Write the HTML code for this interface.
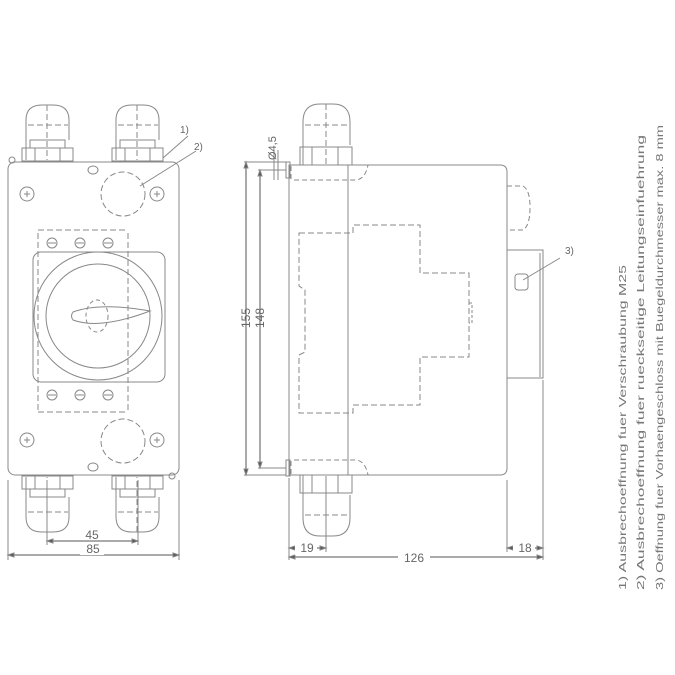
<!DOCTYPE html>
<html><head><style>html,body{margin:0;padding:0;background:#fff;}svg{display:block}</style></head>
<body>
<svg width="675" height="675" viewBox="0 0 675 675" xmlns="http://www.w3.org/2000/svg" font-family="Liberation Sans, sans-serif">
<rect x="0" y="0" width="675" height="675" fill="#fff"/>
<g fill="none" stroke="#888" stroke-width="1">
<!-- LEFT VIEW -->
<rect x="8" y="162" width="171" height="313" rx="7" fill="none"/>
<g id="gt">
<path d="M26 160 V120 Q26 105 42 105 H53 Q69 105 69 120 V140"/>
<line x1="28" y1="125" x2="68" y2="125" stroke-dasharray="6,3"/>
<line x1="47" y1="105" x2="47" y2="160" stroke-dasharray="6,3"/>
<rect x="30" y="140" width="35" height="8" fill="none"/>
<rect x="22" y="148" width="51" height="13" fill="none"/>
<line x1="35" y1="148" x2="35" y2="161"/><line x1="60" y1="148" x2="60" y2="161"/>
</g>
<use href="#gt" transform="translate(90,0)"/>
<use href="#gt" transform="translate(0,637) scale(1,-1)"/>
<use href="#gt" transform="translate(90,637) scale(1,-1)"/>
<circle cx="12" cy="160" r="3" fill="none"/><circle cx="172" cy="476" r="3" fill="none"/>
<ellipse cx="93" cy="170" rx="5" ry="4" fill="none"/><ellipse cx="93" cy="467" rx="5" ry="4" fill="none"/>
<g id="sc"><circle cx="27" cy="194" r="7" fill="none"/><path d="M24 194h6M27 191v6"/></g>
<use href="#sc" transform="translate(130,0)"/>
<use href="#sc" transform="translate(0,246)"/>
<use href="#sc" transform="translate(130,246)"/>
<circle cx="123" cy="194" r="22" stroke-dasharray="6,3" fill="none"/>
<circle cx="123" cy="441" r="22" stroke-dasharray="6,3" fill="none"/>
<path d="M38 233 V413 M128 233 V413 M38 230 H128 M38 412 H128" stroke-dasharray="6,3"/>
<g id="ts"><circle cx="52" cy="243" r="5" fill="none"/><path d="M48 243h8"/></g>
<use href="#ts" transform="translate(28,0)"/><use href="#ts" transform="translate(56,0)"/>
<use href="#ts" transform="translate(0,152)"/><use href="#ts" transform="translate(28,152)"/><use href="#ts" transform="translate(56,152)"/>
<rect x="33" y="252" width="132" height="130" rx="8" fill="none"/>
<circle cx="98" cy="316" r="64" fill="none"/>
<circle cx="98" cy="316" r="52" fill="none"/>
<path d="M73 312 Q100 302 150 311 Q100 330 73 320 Q70 316 73 312Z" fill="none"/>
<ellipse cx="97" cy="316" rx="11" ry="16" stroke-dasharray="4,3" fill="none"/>
<path d="M47 480V545 M138 480V545 M8 480V560 M179 480V560"/>
<path d="M47 541H138 M8 555H179" stroke="#555"/>
<path d="M47 541l6-2v4z M138 541l-6-2v4z M8 555l6-2v4z M179 555l-6-2v4z" fill="#555"/>
<path d="M163 158 L188 136 M140 186 L196 151"/>

<!-- SIDE VIEW -->
<path d="M289 165 H500 Q507 165 507 172 V468 Q507 475 500 475 H289 Z" fill="none"/>
<line x1="348" y1="165" x2="348" y2="475"/>
<rect x="286" y="162" width="4" height="16" fill="none"/><rect x="286" y="460" width="4" height="16" fill="none"/>
<path d="M291 166 V178 Q291 180 295 180 H355 Q365 180 368 165" stroke-dasharray="5,3"/>
<path d="M291 474 V462 Q291 460 295 460 H355 Q365 460 368 475" stroke-dasharray="5,3"/>
<g id="sg">
<path d="M303 165 V122 Q303 104 320 104 H333 Q350 104 350 122 V145"/>
<line x1="305" y1="125" x2="349" y2="125" stroke-dasharray="6,3"/>
<line x1="326" y1="104" x2="326" y2="165" stroke-dasharray="6,3"/>
<rect x="300" y="147" width="52" height="18" fill="none"/>
<line x1="312" y1="147" x2="312" y2="165"/><line x1="338" y1="147" x2="338" y2="165"/>
</g>
<use href="#sg" transform="translate(0,640) scale(1,-1)"/>
<path d="M299 233 H353 V225 H420 V273 H469 V357 H420 V405 H353 V413 H299 V355 L305 352 V290 L299 286 Z" stroke-dasharray="6,3"/>
<path d="M469 303 h3 v20 h-3" stroke-dasharray="3,2"/>
<path d="M507 186 H523 Q530 190 530 207 Q530 226 523 230 H507" stroke-dasharray="5,3"/>
<path d="M507 250 H543 V378 H507"/><line x1="540" y1="253" x2="540" y2="377"/>
<rect x="515" y="274" width="13" height="16" rx="3" fill="none"/>
<line x1="523" y1="280" x2="560" y2="258"/>
<path d="M244 162 H286 M244 475 H286 M258 170 H286 M258 468 H286"/>
<path d="M246 162V475 M260 170V468" stroke="#555"/>
<path d="M246 162l-2 6h4z M246 475l-2-6h4z M260 170l-2 6h4z M260 468l-2-6h4z" fill="#555"/>
<path d="M274 150 V180 M278 150 V180"/>
<path d="M289 478V560 M326 478V552 M507 480V552 M543 380V560"/>
<path d="M289 548H326 M507 548H543 M289 557H543" stroke="#555"/>
<path d="M289 548l6-2v4z M326 548l-6-2v4z M507 548l6-2v4z M543 548l-6-2v4z M289 557l6-2v4z M543 557l-6-2v4z" fill="#555"/>
</g>
<g fill="#666" font-size="12">
<text x="180" y="133" font-size="10">1)</text>
<text x="194" y="150" font-size="10">2)</text>
<text x="565" y="254" font-size="10">3)</text>
<text x="92" y="539" text-anchor="middle">45</text>
<rect x="80" y="545" width="24" height="10" fill="#fff"/>
<text x="93" y="553" text-anchor="middle">85</text>
<text transform="translate(250,318) rotate(-90)" text-anchor="middle">155</text>
<text transform="translate(264,318) rotate(-90)" text-anchor="middle">148</text>
<text transform="translate(276,160) rotate(-90)" font-size="11">Ø4,5</text>
<rect x="295" y="541" width="22" height="14" fill="#fff"/>
<text x="307" y="552" text-anchor="middle">19</text>
<rect x="513" y="541" width="22" height="14" fill="#fff"/>
<text x="525" y="552" text-anchor="middle">18</text>
<rect x="398" y="550" width="32" height="14" fill="#fff"/>
<text x="414" y="562" text-anchor="middle">126</text>
<g font-size="10.5" fill="#777">
<text transform="translate(626,590) rotate(-90)" textLength="325" lengthAdjust="spacingAndGlyphs">1) Ausbrechoeffnung fuer Verschraubung M25</text>
<text transform="translate(644,590) rotate(-90)" textLength="455" lengthAdjust="spacingAndGlyphs">2) Ausbrechoeffnung fuer rueckseitige Leitungseinfuehrung</text>
<text transform="translate(663,590) rotate(-90)" textLength="465" lengthAdjust="spacingAndGlyphs">3) Oeffnung fuer Vorhaengeschloss mit Buegeldurchmesser max. 8 mm</text>
</g>
</g>
</svg>
</body></html>
